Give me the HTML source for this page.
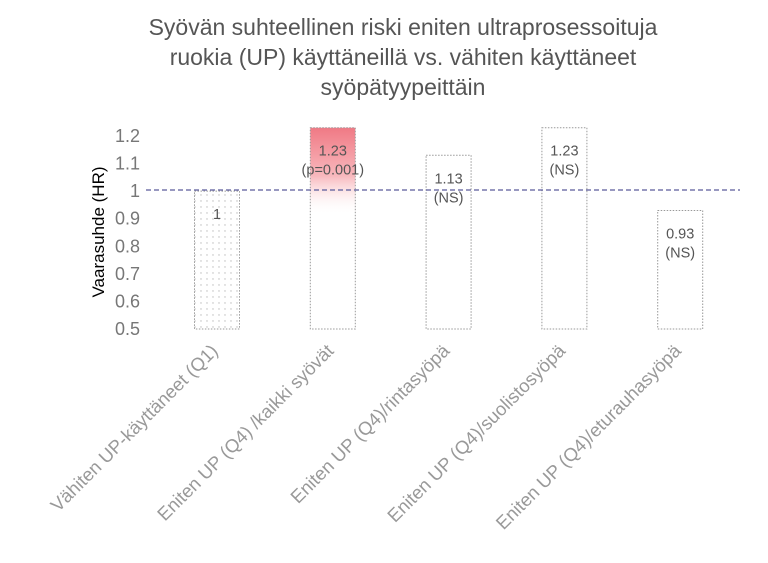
<!DOCTYPE html>
<html><head><meta charset="utf-8"><style>
body{margin:0;background:#fff;}
svg{display:block;font-family:"Liberation Sans",sans-serif;}
</style></head><body>
<svg id="chart" width="768" height="563" viewBox="0 0 768 563">
<defs>
<linearGradient id="redgrad" gradientUnits="userSpaceOnUse" x1="0" y1="128" x2="0" y2="215">
<stop offset="0" stop-color="#f07a85"/><stop offset="0.55" stop-color="#f8b8bd" /><stop offset="1" stop-color="#fff" stop-opacity="0"/>
</linearGradient>
<pattern id="dots" width="6" height="6" patternUnits="userSpaceOnUse"><circle cx="3" cy="3" r="0.7" fill="#bbb"/></pattern>
</defs>
<g fill="#555" font-size="23" text-anchor="middle">
<text x="403" y="35">Syövän suhteellinen riski eniten ultraprosessoituja</text>
<text x="403" y="65">ruokia (UP) käyttäneillä vs. vähiten käyttäneet</text>
<text x="403" y="95">syöpätyypeittäin</text>
</g>
<text transform="translate(104,232) rotate(-90)" text-anchor="middle" font-size="17" fill="#000">Vaarasuhde (HR)</text>
<g id="yticks"></g>
<g id="bars"></g>
<line x1="146" x2="740" y1="190" y2="190" stroke="#5a5a9a" stroke-width="1.3" stroke-dasharray="5,3"/>
<g id="xlabels"></g>
</svg>
<script>
const categories=["Vähiten UP-käyttäneet (Q1)","Eniten UP (Q4) /kaikki syövät","Eniten UP (Q4)/rintasyöpä","Eniten UP (Q4)/suolistosyöpä","Eniten UP (Q4)/eturauhasyöpä"];
const values=[1,1.23,1.13,1.23,0.93];
const valueLabels=["1","1.23","1.13","1.23","0.93"];
const noteLabels=["","(p=0.001)","(NS)","(NS)","(NS)"];
const yTicks=[0.5,0.6,0.7,0.8,0.9,1,1.1,1.2];
const yTickLabels=["0.5","0.6","0.7","0.8","0.9","1","1.1","1.2"];
const NS="http://www.w3.org/2000/svg";
const y=v=>329-(v-0.5)*(329-136)/0.7;
const x=i=>217+i*115.8;
const bw=45;
function mk(tag,attrs,parent){const e=document.createElementNS(NS,tag);for(const k in attrs)e.setAttribute(k,attrs[k]);parent.appendChild(e);return e;}
const yt=document.getElementById('yticks');
yTicks.forEach((t,i)=>{const e=mk('text',{x:140,y:y(t)+6,'text-anchor':'end','font-size':18,fill:'#777'},yt);


e.textContent=yTickLabels[i];});
const bg=document.getElementById('bars');
values.forEach((v,i)=>{
 const top=y(v),bot=y(0.5);
 const fill=i===0?'url(#dots)':(i===1?'url(#redgrad)':'none');
 const r=mk('rect',{x:x(i)-bw/2,y:top,width:bw,height:bot-top,fill:fill,stroke:'#999','stroke-width':1,'stroke-dasharray':'1.5,1.5'},bg);
 
 
 const t=mk('text',{x:x(i),y:top+28,'text-anchor':'middle','font-size':14.5,fill:'#555'},bg);
 
 
 t.textContent=valueLabels[i];
 if(noteLabels[i]){const n=mk('text',{x:x(i),y:top+47,'text-anchor':'middle','font-size':14.5,fill:'#555'},bg);
 
 
 n.textContent=noteLabels[i];}
});
const xl=document.getElementById('xlabels');
categories.forEach((c,i)=>{const t=mk('text',{transform:`translate(${x(i)+2},352) rotate(-45)`,'text-anchor':'end','font-size':18.5,fill:'#999'},xl);


t.textContent=c;});
</script>
</body></html>
